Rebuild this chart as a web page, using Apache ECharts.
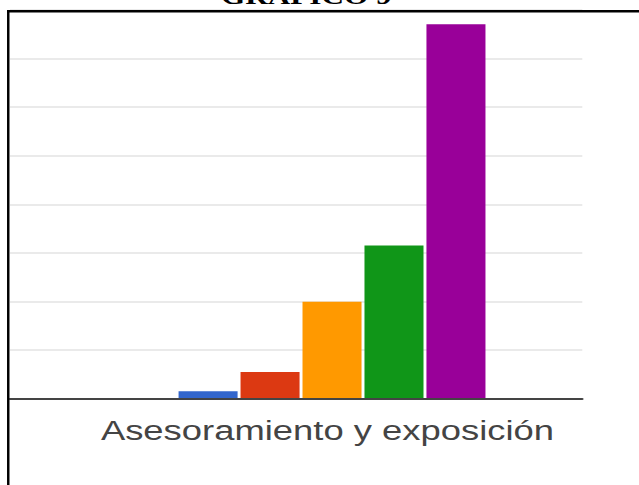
<!DOCTYPE html>
<html>
<head>
<meta charset="utf-8">
<script src="https://cdn.jsdelivr.net/npm/echarts@6/dist/echarts.min.js"></script>
<style>
html,body{margin:0;padding:0;background:#fff;overflow:hidden;}
#chart{width:492px;height:485px;transform:scaleX(1.3);transform-origin:0 0;}
</style>
</head>
<body>
<div id="chart"></div>
<script>
const titleText = 'GRÁFICO 9';
const categories = ['Asesoramiento y exposición'];
const seriesNames = ['1', '2', '3', '4', '5'];
const seriesValues = [[1.45], [5.4], [19.9], [31.5], [77.1]];
const seriesColors = ['#3366cc', '#dc3912', '#ff9900', '#109618', '#990099'];
const yMin = 0, yMax = 80, yStep = 10;

const chart = echarts.init(document.getElementById('chart'), null, {renderer: 'svg'});
const gridTop = 10.2, gridBottom = 86.7;
chart.setOption({
  animation: false,
  backgroundColor: '#fff',
  title: {
    text: titleText,
    left: 165,
    top: -21,
    textStyle: {fontFamily: 'Liberation Serif', fontWeight: 'bold', fontSize: 24, color: '#000'}
  },
  grid: [
    {left: 7.7, right: 44.1, top: gridTop, bottom: gridBottom},
    {left: 62.9, right: 44.1, top: gridTop, bottom: gridBottom}
  ],
  xAxis: [
    {gridIndex: 0, type: 'category', data: [''], axisTick: {show: false}, axisLabel: {show: false},
     axisLine: {show: true, lineStyle: {color: '#444', width: 2}}, z: 5},
    {gridIndex: 1, type: 'category', data: categories, axisTick: {show: false},
     axisLine: {show: false},
     axisLabel: {show: true, margin: 18, fontFamily: 'Liberation Sans', fontSize: 28, color: '#444', padding: [0, 7, 0, 0]}}
  ],
  yAxis: [
    {gridIndex: 0, type: 'value', min: yMin, max: yMax, interval: yStep,
     axisLabel: {show: false}, axisLine: {show: false}, axisTick: {show: false},
     splitLine: {show: true, lineStyle: {color: '#e3e3e3', width: 1.5}}},
    {gridIndex: 1, type: 'value', min: yMin, max: yMax, interval: yStep, show: false,
     splitLine: {show: false}}
  ],
  series: seriesNames.map((name, i) => ({
    name: name,
    type: 'bar',
    xAxisIndex: 1,
    yAxisIndex: 1,
    data: seriesValues[i],
    barWidth: 45.4,
    barGap: '5%',
    itemStyle: {color: seriesColors[i]}
  })),
  graphic: [
    {type: 'rect', shape: {x: 5.4, y: 10, width: 1.9, height: 480}, style: {fill: '#000'}, z: 100},
    {type: 'rect', shape: {x: 5.4, y: 10, width: 490, height: 2.5}, style: {fill: '#000'}, z: 100}
  ]
});
</script>
</body>
</html>
